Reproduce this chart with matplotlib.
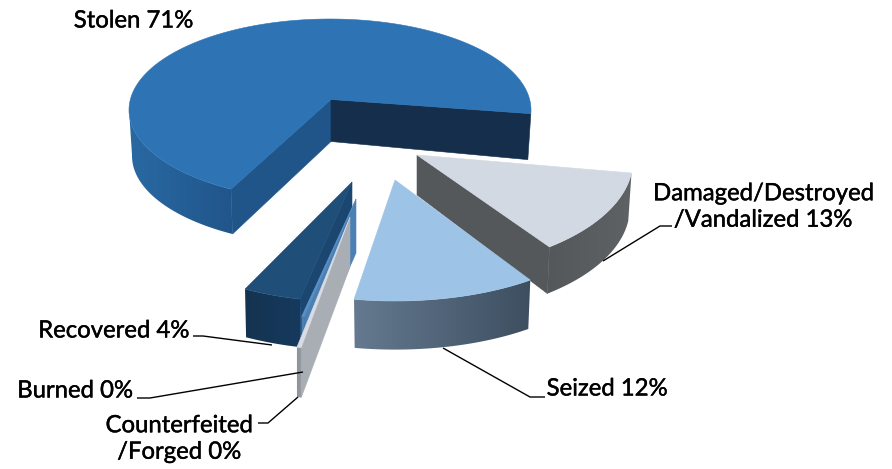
import numpy as np
import matplotlib
matplotlib.use("Agg")
import matplotlib.pyplot as plt
import matplotlib.patheffects as pe
from matplotlib.colors import LinearSegmentedColormap
from matplotlib.patches import Polygon

plt.rcParams['font.family'] = ['Lato', 'DejaVu Sans']

# data
names = ["Stolen", "Damaged/Destroyed\n/Vandalized", "Seized", "Recovered", "Burned", "Counterfeited\n/Forged"]
values = [71, 13, 12, 4, 0.4, 0.4]

# 3-D projection per slice (explosion and perspective)
apex_x = [331, 417, 395, 352, 356, 350]
apex_y = [99.5, 155, 180, 182, 199, 217]
cen_x = [330, 417, 395, 352, 356, 350]
cen_y = [110, 160, 207, 205, 235, 250]
rad_x = [201, 216, 215, 215, 220, 220]
rad_y = [91, 110, 94, 97, 84, 100]
depth_apex = [42, 40, 50, 49, 54, 50]
depth_rim = [46, 48, 50, 49, 54, 50]
rim_scale = [0.985, 0.985, 0.985, 0.99, 1.0, 1.0]
start_deg = [240.5, -6.8, -51, -104, -103.6, -102.8]
stretch = [0.95, 0.97, 1.157, 1.1, 0.5, 0.8]

# colours: wall gradients run left to right on screen
top_col = ["#2E74B5", "#D2D9E3", "#9DC3E6", "#1F4E79", "#5A90C4", "#D9DDE3"]
wall_l = ["#2A69A3", "#54585B", "#657A90", "#14334F", "#4A80B4", "#8B9096"]
wall_r = ["#20558A", "#5E6265", "#3D4E60", "#163A5E", "#4A80B4", "#9A9FA5"]
face_start = ["#20558A", None, None, "#1A4670", "#4A80B4", "#A9AEB4"]
face_end = ["#142E4C", "#54585B", None, None, None, None]

# leaders and labels
leaders = [
    ([672, 660, 603], [226, 226, 261]),
    ([545, 530, 443], [397, 397, 348]),
    ([193, 203, 272], [336, 336, 345]),
    ([137, 150, 303], [398, 398, 372]),
    ([258, 268, 298], [423, 423, 397]),
]
label_x = [133.5, 763, 607, 113.5, 75, 179]
label_y = [21, 207, 389, 331, 391, 439]

fig = plt.figure(figsize=(8.92, 4.69), dpi=100)
ax = fig.add_axes([0, 0, 1, 1])
ax.axis("off")

z = 0
for i, v in enumerate(values):
    a0 = start_deg[i]
    a1 = a0 - v * 3.6 * stretch[i]
    th = np.radians(np.linspace(a0, a1, 240))
    top_x = cen_x[i] + rad_x[i] * np.cos(th)
    top_y = cen_y[i] - rad_y[i] * np.sin(th)
    bot_x = cen_x[i] + rad_x[i] * rim_scale[i] * np.cos(th)
    bot_y = cen_y[i] + depth_rim[i] - rad_y[i] * rim_scale[i] * np.sin(th)
    ap = (apex_x[i], apex_y[i])
    ap_b = (apex_x[i], apex_y[i] + depth_apex[i])

    # inner faces
    for col, k in ((face_start[i], 0), (face_end[i], -1)):
        if col:
            z += 1
            ax.add_patch(Polygon([ap, ap_b, (bot_x[k], bot_y[k]), (top_x[k], top_y[k])],
                                 closed=True, fc=col, ec=col, lw=0.4, zorder=z))
    # outer wall with gradient
    vis = np.where(np.sin(th) <= 0.02)[0]
    if i == 0:
        vis = vis[vis < 120]
    z += 1
    wall = np.column_stack([np.r_[top_x[vis], bot_x[vis][::-1]],
                            np.r_[top_y[vis], bot_y[vis][::-1]]])
    patch = Polygon(wall, closed=True, fc="none", ec="none", zorder=z)
    ax.add_patch(patch)
    cmap = LinearSegmentedColormap.from_list("w", [wall_l[i], wall_r[i]])
    im = ax.imshow(np.linspace(0, 1, 256)[None, :], cmap=cmap, aspect="auto", zorder=z,
                   extent=(wall[:, 0].min() - 1, wall[:, 0].max() + 1,
                           wall[:, 1].max() + 1, wall[:, 1].min() - 1),
                   interpolation="bilinear")
    im.set_clip_path(patch)
    # top face
    z += 1
    pts = np.column_stack([np.r_[ap[0], top_x], np.r_[ap[1], top_y]])
    ax.add_patch(Polygon(pts, closed=True, fc=top_col[i], ec=top_col[i], lw=0.4, zorder=z))

ax.set_xlim(0, 892)
ax.set_ylim(469, 0)

z += 1
for lx, ly in leaders:
    ax.plot(lx, ly, color="black", lw=1.0, zorder=z, solid_capstyle="butt")

for name, v, x, y in zip(names, values, label_x, label_y):
    ax.text(x, y, f"{name} {round(v)}%", ha="center", va="center", fontsize=17.2,
            color="black", linespacing=1.32, zorder=z + 1,
            path_effects=[pe.withStroke(linewidth=0.3, foreground="black")])

fig.savefig("out.png", dpi=100, facecolor="white")
